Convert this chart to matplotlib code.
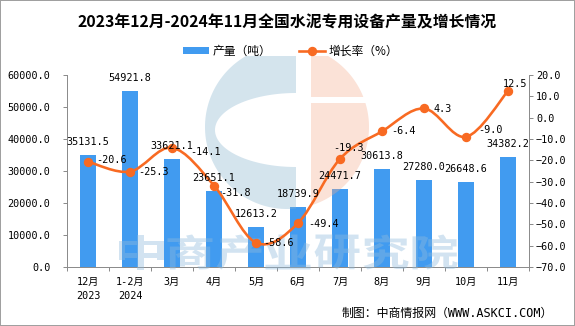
import numpy as np
import matplotlib
matplotlib.use('Agg')
import matplotlib.pyplot as plt
from matplotlib.path import Path
from matplotlib.patches import PathPatch, Patch, Rectangle, Polygon
from matplotlib.lines import Line2D
from matplotlib.ticker import FuncFormatter
from matplotlib.textpath import TextPath
from matplotlib.font_manager import FontProperties
from matplotlib.transforms import Affine2D

# ---- data -------------------------------------------------------------
months = ['12月\n2023', '1-2月\n2024', '3月', '4月', '5月', '6月',
          '7月', '8月', '9月', '10月', '11月']
output_t = [35131.5, 54921.8, 33621.1, 23651.1, 12613.2, 18739.9,
            24471.7, 30613.8, 27280.0, 26648.6, 34382.2]
growth_pct = [-20.6, -25.3, -14.1, -31.8, -58.6, -49.4,
              -19.3, -6.4, 4.3, -9.0, 12.5]

# label nudges for the growth-rate labels (pixels: right, up)
growth_label_nudge = [(8, 2), (8, 0), (18, -4), (6, -7), (7, 0), (10, -1),
                      (-7, 11), (9, 0), (9, -1), (12, 7), (-5, 7)]

# ---- style ------------------------------------------------------------
W, H, DPI = 575, 326, 100
BAR_C = '#419bf0'
LINE_C = '#f86a22'
AXIS_C = '#8c8c8c'
MONO_CJK = ['DejaVu Sans Mono', 'Noto Sans CJK SC']
CJK = ['Noto Sans CJK SC', 'DejaVu Sans']
NUM_SIZE = 7.3


def px(p):
    """pixels -> points"""
    return p * 72.0 / DPI


def fmt(v):
    return f'{v:.1f}'.replace('-', '\u2212')


fig = plt.figure(figsize=(W / DPI, H / DPI), dpi=DPI)
fig.patch.set_facecolor('white')

ax = fig.add_axes([67 / W, 59 / H, 462 / W, 192 / H])
ax2 = ax.twinx()
wm = fig.add_axes([0, 0, 1, 1])
ax.set_zorder(1)
wm.set_zorder(2)
ax2.set_zorder(3)
ax2.patch.set_visible(False)
wm.patch.set_visible(False)
wm.set_xlim(0, W)
wm.set_ylim(H, 0)
wm.axis('off')

x = np.arange(len(months))

# ---- bars -------------------------------------------------------------
ax.bar(x, output_t, width=0.38, color=BAR_C, zorder=2)
ax.set_xlim(-0.5, len(months) - 0.5)
ax.set_ylim(0, 60000)
ax.set_yticks(np.arange(0, 60001, 10000))
ax.yaxis.set_major_formatter(FuncFormatter(lambda v, p: fmt(v)))

# ---- smoothed growth line --------------------------------------------
pts = np.column_stack([x, growth_pct]).astype(float)
ext = np.vstack([pts[0], pts, pts[-1]])
verts = [pts[0]]
codes = [Path.MOVETO]
for i in range(len(pts) - 1):
    p0, p1, p2, p3 = ext[i], ext[i + 1], ext[i + 2], ext[i + 3]
    verts += [p1 + (p2 - p0) / 6.0, p2 - (p3 - p1) / 6.0, p2]
    codes += [Path.CURVE4] * 3
ax2.add_patch(PathPatch(Path(verts, codes), facecolor='none',
                        edgecolor=LINE_C, lw=px(2.6), zorder=3,
                        capstyle='round', joinstyle='round'))
ax2.plot(x, growth_pct, 'o', ms=px(8), color=LINE_C, zorder=4)
ax2.set_ylim(-70, 20)
ax2.set_yticks(np.arange(-70, 21, 10))
ax2.yaxis.set_major_formatter(FuncFormatter(lambda v, p: fmt(v)))

# ---- value labels -----------------------------------------------------
for i, v in enumerate(output_t):
    ax2.annotate(f'{v:.1f}', xy=(i, v), xycoords=ax.transData,
                 xytext=(0, px(13)), textcoords='offset points',
                 ha='center', va='center', fontsize=NUM_SIZE,
                 family='DejaVu Sans Mono', color='black', zorder=5)
for i, (g, (dx, dy)) in enumerate(zip(growth_pct, growth_label_nudge)):
    ax2.annotate(f'{g:.1f}', xy=(i, g), xytext=(px(dx), px(dy)),
                 textcoords='offset points', ha='left', va='center',
                 fontsize=NUM_SIZE, family='DejaVu Sans Mono',
                 color='black', zorder=5)

# ---- axes cosmetics ---------------------------------------------------
for s in ('top', 'right'):
    ax.spines[s].set_visible(False)
for s in ('left', 'bottom'):
    ax.spines[s].set_color(AXIS_C)
    ax.spines[s].set_linewidth(px(1))
for s in ('top', 'left', 'bottom'):
    ax2.spines[s].set_visible(False)
ax2.spines['right'].set_color(AXIS_C)
ax2.spines['right'].set_linewidth(px(1))

ax.set_xticks(np.arange(-0.5, len(months), 1.0))
ax.set_xticklabels([])
ax.set_xticks(x, minor=True)
ax.set_xticklabels(months, minor=True)
ax.tick_params(axis='x', which='major', length=px(4), width=px(1),
               color=AXIS_C, direction='out')
ax.tick_params(axis='x', which='minor', length=0, pad=px(10))
ax.tick_params(axis='y', length=px(4), width=px(1), color=AXIS_C,
               pad=px(12.5), labelsize=NUM_SIZE)
ax2.tick_params(axis='y', length=px(4), width=px(1), color=AXIS_C,
                pad=px(3), labelsize=NUM_SIZE)
for lbl in ax.get_yticklabels() + ax2.get_yticklabels():
    lbl.set_fontfamily('DejaVu Sans Mono')
for lbl in ax.get_xticklabels(minor=True):
    lbl.set_fontfamily(MONO_CJK)
    lbl.set_fontsize(NUM_SIZE)
    lbl.set_linespacing(1.45)

# ---- watermark logo and text -------------------------------------------
cx, cy, r = 287.0, 127.0, 82.0
blue_wm = '#84b2ce'
peach_wm = '#f4ac8d'
wm_alpha = 0.35
clip = Rectangle((0, 56), W, H - 56, transform=wm.transData)

# left blue crescent
xs = 296.0
dy = np.sqrt(r ** 2 - (xs - cx) ** 2)
t1 = np.arctan2(-dy, xs - cx)
t2 = np.arctan2(dy, xs - cx) - 2 * np.pi
th = np.linspace(t1, t2, 200)
arc = np.column_stack([cx + r * np.cos(th), cy + r * np.sin(th)])
ph = np.linspace(np.pi / 2, 1.5 * np.pi, 120)
ell = np.column_stack([xs + 81 * np.cos(ph), 130 + 37 * np.sin(ph)])
blue_poly = np.vstack([arc, ell])
pb = Polygon(blue_poly, closed=True, facecolor=blue_wm, edgecolor='none',
             alpha=wm_alpha)
wm.add_patch(pb)
pb.set_clip_path(clip)

# right peach parts, split by a horizontal gap
xp = 311.0


def peach_part(theta_a, theta_b, y_edge):
    tt = np.linspace(theta_a, theta_b, 120)
    a = np.column_stack([cx + r * np.cos(tt), cy + r * np.sin(tt)])
    return np.vstack([a, [[xp, y_edge]]])


dyp = np.sqrt(r ** 2 - (xp - cx) ** 2)
ta = np.arctan2(-dyp, xp - cx)
tb = np.arctan2(97 - cy, np.sqrt(r ** 2 - (97 - cy) ** 2))
tc = np.arctan2(103 - cy, np.sqrt(r ** 2 - (103 - cy) ** 2))
td = np.arctan2(dyp, xp - cx)
for poly in (peach_part(ta, tb, 97), peach_part(tc, td, 103)):
    pp = Polygon(poly, closed=True, facecolor=peach_wm, edgecolor='none',
                 alpha=wm_alpha)
    wm.add_patch(pp)
    pp.set_clip_path(clip)

# wide bold watermark lettering
wm_font = FontProperties(family='Noto Sans CJK SC', weight='bold')
for k, ch in enumerate('中商产业研究院'):
    tp = TextPath((0, 0), ch, size=40, prop=wm_font)
    ext_ = tp.get_extents()
    sx = 45.0 / ext_.width
    sy = 35.0 / ext_.height
    tr = (Affine2D()
          .translate(-(ext_.x0 + ext_.width / 2), -(ext_.y0 + ext_.height / 2))
          .scale(sx, -sy)
          .translate(141 + 49 * k, 252))
    glyph = PathPatch(tr.transform_path(tp), facecolor='#8fbbdc',
                      edgecolor='none', alpha=0.4)
    wm.add_patch(glyph)

# ---- title, legend, source ---------------------------------------------
fig.text(287 / W, 1 - 22 / H,
         '2023年12月-2024年11月全国水泥专用设备产量及增长情况',
         ha='center', va='center', fontsize=11.4, fontweight='bold',
         family=CJK)

handles = [Patch(facecolor=BAR_C, edgecolor='none'),
           Line2D([], [], color=LINE_C, lw=px(2.6), marker='o', ms=px(8))]
fig.legend(handles, ['产量（吨）', '增长率（%）'], loc='center',
           bbox_to_anchor=(290.5 / W, 1 - 51 / H), ncol=2, frameon=False,
           prop={'family': CJK, 'size': 8.5}, handlelength=2.2,
           handleheight=0.6, handletextpad=0.3, columnspacing=2.3)

fig.text(553 / W, 1 - 313 / H, '制图：中商情报网（WWW.ASKCI.COM）',
         ha='right', va='center', fontsize=8.6, family=MONO_CJK)

fig.add_artist(Rectangle((0, 0), 1, 1, transform=fig.transFigure,
                         fill=False, edgecolor='#a0a0a0', lw=px(2)))

fig.savefig('out.png', dpi=DPI)
